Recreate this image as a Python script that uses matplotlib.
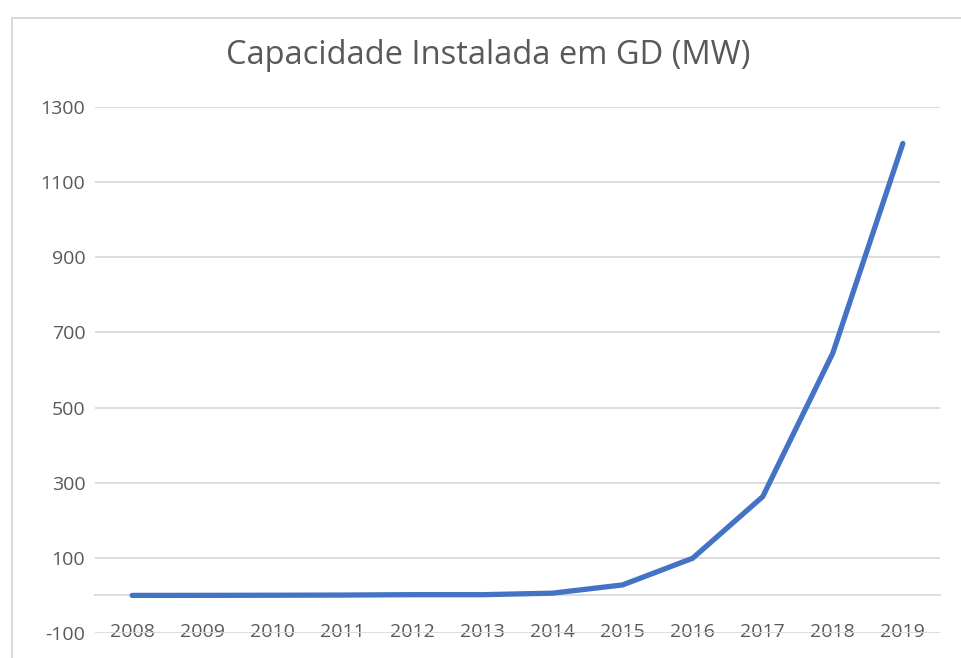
import matplotlib.pyplot as plt
from matplotlib.patches import Rectangle

# data
anos = ['2008', '2009', '2010', '2011', '2012', '2013',
        '2014', '2015', '2016', '2017', '2018', '2019']
capacidade = [0.1, 0.2, 0.5, 1, 2, 2, 6, 28, 99, 263, 645, 1203]
y_ticks = [-100, 100, 300, 500, 700, 900, 1100, 1300]

plt.rcParams['font.family'] = ['Open Sans', 'DejaVu Sans']
cinza = '#595959'
grade = '#d9d9d9'

fig = plt.figure(figsize=(9.61, 6.58), dpi=100)
# chart area frame
fig.patches.append(Rectangle((12 / 961, -0.01), 1.0, 1 - 18 / 658 + 0.01,
                             transform=fig.transFigure, fill=False,
                             edgecolor=grade, linewidth=1.5))

ax = fig.add_axes([95 / 961, 1 - 633 / 658, (940 - 95) / 961, (633 - 107) / 658])
for s in ['top', 'right', 'left']:
    ax.spines[s].set_visible(False)
ax.spines['bottom'].set_position(('data', 0))
ax.spines['bottom'].set_color(grade)
ax.spines['bottom'].set_linewidth(1.3)

x = range(len(anos))
ax.plot(x, capacidade, color='#4472C4', linewidth=3.8,
        solid_capstyle='round', solid_joinstyle='round', zorder=3)

ax.set_ylim(-100, 1300)
ax.set_xlim(-0.53, len(anos) - 0.47)
ax.set_yticks(y_ticks)
ax.set_yticklabels([str(v) for v in y_ticks])
ax.set_xticks(list(x))
ax.set_xticklabels(anos)
ax.grid(axis='y', color=grade, linewidth=1.3)
ax.set_axisbelow(True)

ax.tick_params(axis='both', length=0, labelsize=14, labelcolor=cinza)
ax.tick_params(axis='y', pad=7)
ax.tick_params(axis='x', pad=20)

fig.text(488 / 961, 1 - 55 / 658, 'Capacidade Instalada em GD (MW)',
         ha='center', va='center', fontsize=23.5, color=cinza)

fig.savefig('out.png', dpi=100)
